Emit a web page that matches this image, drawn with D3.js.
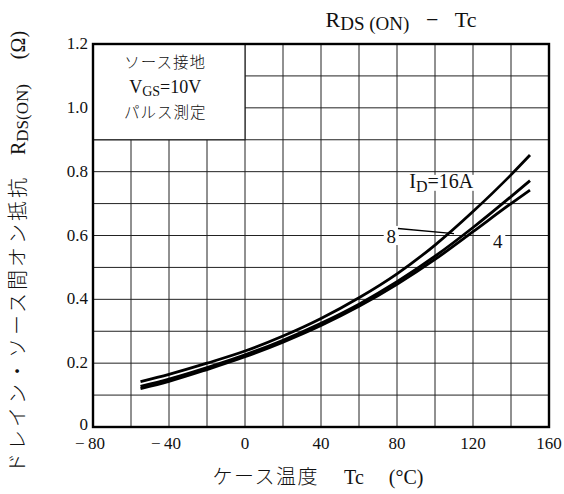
<!DOCTYPE html>
<html><head><meta charset="utf-8">
<script src="https://cdn.jsdelivr.net/npm/d3@7"></script>
<style>
html,body{margin:0;padding:0;background:#fff;}
svg text{font-family:"Liberation Serif","Noto Sans CJK JP",serif;fill:#111;}
.jp{font-family:"Noto Sans CJK JP","Liberation Serif",sans-serif;font-weight:300;}
</style></head><body>
<svg id="c" width="564" height="494"></svg>
<script>
const temps = [-55, -40, -20, 0, 20, 40, 60, 80, 100, 120, 140, 150];
const id16 = [0.142, 0.165, 0.200, 0.238, 0.285, 0.340, 0.405, 0.480, 0.570, 0.675, 0.790, 0.852];
const id8  = [0.127, 0.150, 0.186, 0.226, 0.272, 0.325, 0.385, 0.455, 0.535, 0.625, 0.722, 0.772];
const id4  = [0.120, 0.143, 0.180, 0.220, 0.266, 0.318, 0.378, 0.447, 0.525, 0.612, 0.700, 0.742];
const xTicks = [-80, -40, 0, 40, 80, 120, 160];
const yTicks = [0, 0.2, 0.4, 0.6, 0.8, 1.0, 1.2];
const xGrid = d3.range(-80, 161, 20);
const yGrid = d3.range(0, 1.21, 0.1);

const svg = d3.select("#c");
const x = d3.scaleLinear().domain([-80, 160]).range([93, 549]);
const y = d3.scaleLinear().domain([0, 1.2]).range([427, 44]);

// grid
svg.append("g").selectAll("line").data(xGrid).join("line")
  .attr("x1", d => x(d)).attr("x2", d => x(d)).attr("y1", y(0)).attr("y2", y(1.2))
  .attr("stroke", "#222").attr("stroke-width", 1);
svg.append("g").selectAll("line").data(yGrid).join("line")
  .attr("y1", d => y(d)).attr("y2", d => y(d)).attr("x1", x(-80)).attr("x2", x(160))
  .attr("stroke", "#222").attr("stroke-width", 1);

// legend box (covers grid)
svg.append("rect").attr("x", x(-80)).attr("y", y(1.2)).attr("width", x(0) - x(-80)).attr("height", y(0.9) - y(1.2))
  .attr("fill", "#fff").attr("stroke", "#222").attr("stroke-width", 1.2);
const lb = svg.append("g").attr("text-anchor", "middle").attr("font-size", 15.5);
lb.append("text").attr("class", "jp").attr("x", x(-42)).attr("y", y(1.125)).attr("letter-spacing", 1).text("ソース接地");
const vgs = lb.append("text").attr("x", x(-42)).attr("y", y(1.048)).attr("font-size", 18);
vgs.append("tspan").text("V");
vgs.append("tspan").attr("font-size", 14).attr("dy", 3).text("GS");
vgs.append("tspan").attr("dy", -3).text("=10V");
lb.append("text").attr("class", "jp").attr("x", x(-42)).attr("y", y(0.968)).attr("letter-spacing", 1).text("パルス測定");

// curve labels with white backgrounds
function bg(xa, xb, ya, yb) {
  svg.append("rect").attr("x", x(xa)).attr("y", y(yb)).attr("width", x(xb) - x(xa)).attr("height", y(ya) - y(yb)).attr("fill", "#fff");
}
bg(85, 122, 0.74, 0.79);
bg(73, 81, 0.57, 0.63);
bg(129, 137, 0.57, 0.63);

const line = d3.line().x((d, i) => x(temps[i])).y(d => y(d)).curve(d3.curveMonotoneX);
[id4, id8, id16].forEach(s => {
  svg.append("path").attr("d", line(s)).attr("fill", "none").attr("stroke", "#000").attr("stroke-width", 2.8);
});

// leader for 8
svg.append("line").attr("x1", x(80.5)).attr("y1", y(0.622)).attr("x2", x(110)).attr("y2", y(0.606))
  .attr("stroke", "#000").attr("stroke-width", 1.3);

const idl = svg.append("text").attr("x", x(86.5)).attr("y", y(0.748)).attr("font-size", 20);
idl.append("tspan").text("I");
idl.append("tspan").attr("font-size", 16).attr("dy", 4).text("D");
idl.append("tspan").attr("dy", -4).text("=16A");
svg.append("text").attr("x", x(77)).attr("y", y(0.6) + 7).attr("font-size", 19).attr("text-anchor", "middle").text("8");
svg.append("text").attr("x", x(133)).attr("y", y(0.6) + 12).attr("font-size", 19).attr("text-anchor", "middle").text("4");

// frame
svg.append("rect").attr("x", x(-80)).attr("y", y(1.2)).attr("width", x(160) - x(-80)).attr("height", y(0) - y(1.2))
  .attr("fill", "none").attr("stroke", "#000").attr("stroke-width", 2.4);

// axes ticks labels
svg.append("g").selectAll("text").data(yTicks).join("text")
  .attr("x", x(-80) - 5).attr("y", d => y(d) + (d === 0 ? 3 : 5)).attr("text-anchor", "end").attr("font-size", 17)
  .text(d => d === 0 ? "0" : d.toFixed(1));
svg.append("g").selectAll("text").data(xTicks).join("text")
  .attr("x", d => x(d) + (d < 0 ? -3 : 0)).attr("y", y(0) + 22).attr("text-anchor", "middle").attr("font-size", 17)
  .text(d => d < 0 ? "\u2212" + "\u2009" + Math.abs(d) : String(d));

// title
const t = svg.append("text").attr("x", 401).attr("y", 27).attr("text-anchor", "middle").attr("font-size", 22);
t.append("tspan").text("R");
t.append("tspan").attr("font-size", 19).attr("dy", 3).text("DS (ON)");
t.append("tspan").attr("dy", -3).text("\u2002 \u2212 \u2002Tc");

// x label
const xl = svg.append("text").attr("x", 318).attr("y", 484).attr("text-anchor", "middle").attr("font-size", 20);
xl.append("tspan").attr("class", "jp").attr("letter-spacing", 1.5).text("ケース温度");
xl.append("tspan").text("\u2003 Tc\u2003 (°C)");

// y label
const yl = svg.append("text").attr("transform", "translate(25,252) rotate(-90)").attr("text-anchor", "middle").attr("font-size", 20);
yl.append("tspan").attr("class", "jp").attr("letter-spacing", 3).text("ドレイン・ソース間オン抵抗");
yl.append("tspan").text("\u2003R");
yl.append("tspan").attr("font-size", 17).attr("dy", 3).text("DS(ON)");
yl.append("tspan").attr("dy", -3).text("\u2003 (Ω)");
</script>
</body></html>
